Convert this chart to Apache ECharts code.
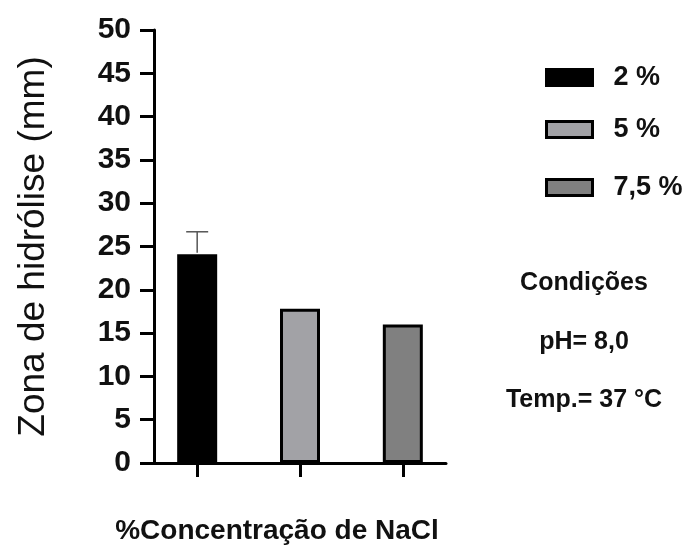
<!DOCTYPE html>
<html>
<head>
<meta charset="utf-8">
<script src="https://cdn.jsdelivr.net/npm/echarts@6/dist/echarts.min.js"></script>
<style>html,body{margin:0;padding:0;background:#fff;}#c{width:694px;height:554px;}</style>
</head>
<body>
<div id="c"></div>
<script>
var seriesNames = ['2 %', '5 %', '7,5 %'];
var positions = [0, 1, 2];
var values = [24.1, 17.8, 16.0];
var errors = [2.6, 0, 0];
var colors = ['#000000', '#a2a2a6', '#808080'];
var yTicks = [0, 5, 10, 15, 20, 25, 30, 35, 40, 45, 50];
var conditions = ['Condições', 'pH= 8,0', 'Temp.= 37 °C'];

var FONT = '"Liberation Sans", Arial, sans-serif';
var chart = echarts.init(document.getElementById('c'));

var series = seriesNames.map(function (n, i) {
  return {
    name: n, type: 'bar', barWidth: 40, barGap: '-100%',
    data: [[positions[i], values[i]]],
    itemStyle: { color: colors[i], borderColor: '#000', borderWidth: 3 },
    z: 2
  };
});
series.push({
  type: 'custom', name: 'err', z: 3,
  data: positions.map(function (p, i) { return [p, values[i], values[i] + errors[i]]; }).filter(function (d, i) { return errors[i] > 0; }),
  renderItem: function (params, api) {
    var lo = api.coord([api.value(0), api.value(1)]);
    var hi = api.coord([api.value(0), api.value(2)]);
    var w = 11;
    return {
      type: 'group',
      children: [
        { type: 'line', shape: { x1: lo[0], y1: lo[1] - 1.5, x2: hi[0], y2: hi[1] }, style: { stroke: '#555', lineWidth: 1.5 } },
        { type: 'line', shape: { x1: hi[0] - w, y1: hi[1], x2: hi[0] + w, y2: hi[1] }, style: { stroke: '#555', lineWidth: 1.5 } }
      ]
    };
  }
});

var legendTops = [64, 116, 174];
var legends = seriesNames.map(function (n, i) {
  return {
    data: [n], left: 545, top: legendTops[i], orient: 'vertical',
    itemWidth: 46, itemHeight: 16, icon: 'rect', padding: 0,
    itemStyle: { borderColor: '#000', borderWidth: 3 },
    textStyle: { fontFamily: FONT, fontWeight: 'bold', fontSize: 27, color: '#111', padding: [0, 0, 0, 16] },
    selectedMode: false
  };
});

var condCenters = [283, 342, 400];
var graphics = conditions.map(function (t, i) {
  return {
    type: 'text', x: 584, y: condCenters[i],
    style: { text: t, fontFamily: FONT, fontWeight: 'bold', fontSize: 25, fill: '#111', align: 'center', verticalAlign: 'middle' }
  };
});

chart.setOption({
  animation: false,
  backgroundColor: '#fff',
  grid: { left: 154, right: 248, top: 30, bottom: 91, outerBoundsMode: 'none', containLabel: false },
  legend: legends,
  xAxis: {
    type: 'value', min: -0.42, max: 2.42,
    splitLine: { show: false },
    axisLine: { show: true, onZero: false, lineStyle: { color: '#000', width: 3 } },
    axisTick: { show: true, customValues: positions, length: 14, lineStyle: { color: '#000', width: 3 } },
    axisLabel: { show: false },
    name: '%Concentração de NaCl', nameLocation: 'middle', nameGap: 54,
    nameTextStyle: { fontFamily: FONT, fontWeight: 'bold', fontSize: 28, color: '#111', padding: [0, 46, 0, 0] }
  },
  yAxis: {
    type: 'value', min: yTicks[0], max: yTicks[yTicks.length - 1], interval: 5,
    splitLine: { show: false },
    axisLine: { show: true, onZero: false, lineStyle: { color: '#000', width: 3 } },
    axisTick: { show: true, length: 14, lineStyle: { color: '#000', width: 3 } },
    axisLabel: { fontFamily: FONT, fontWeight: 'bold', fontSize: 30, color: '#111', margin: 23 },
    name: 'Zona de hidrólise (mm)', nameLocation: 'middle', nameRotate: 90, nameGap: 102,
    nameTextStyle: { fontFamily: FONT, fontSize: 37, color: '#111' }
  },
  series: series,
  graphic: graphics
});
</script>
</body>
</html>
